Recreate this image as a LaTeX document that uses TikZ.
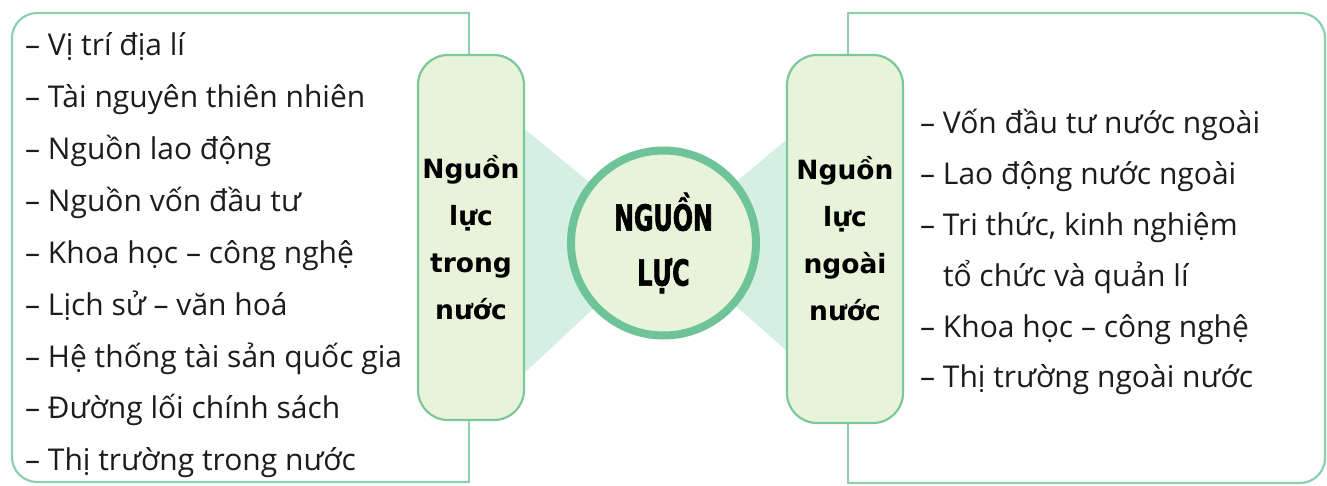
\documentclass[tikz,border=0pt]{standalone}
\usepackage{fontspec}
\setmainfont{Open Sans}
\newfontfamily\pillfont{DejaVu Sans}
\newfontfamily\hubfont{DejaVu Sans Bold}[FakeStretch=0.66, FakeBold=1.6]
\usetikzlibrary{positioning, backgrounds}
\definecolor{framegreen}{RGB}{140, 208, 172}
\definecolor{pillgreen}{RGB}{232, 244, 218}
\definecolor{pillline}{RGB}{125, 200, 155}
\definecolor{hubline}{RGB}{110, 196, 152}
\definecolor{wedgeteal}{RGB}{214, 239, 229}
\definecolor{inktext}{RGB}{28, 28, 28}

\begin{document}
\begin{tikzpicture}[x=1pt, y=-1pt,
    frame/.style={draw=framegreen, line width=2.2pt, line cap=round},
    pill/.style={rectangle, draw=pillline, fill=pillgreen, line width=2.2pt, rounded corners=30pt, align=center, inner sep=0pt, font=\pillfont\bfseries\fontsize{26.5}{47}\selectfont},
    hub/.style={circle, draw=hubline, fill=pillgreen, line width=8pt, minimum size=185pt, align=center, inner sep=0pt, font=\hubfont\fontsize{36}{55}\selectfont},
    wedge/.style={fill=wedgeteal},
    item/.style={anchor=base west, inner sep=0pt, text=inktext, font=\fontsize{30}{35}\selectfont}]

    \useasboundingbox (0,0) rectangle (1327,485);

    % Frames
    \draw[frame, rounded corners=25pt] (469,482) -- (12,482) -- (12,13) -- (469,13);
    \draw[frame] (469,13) -- (469,482);
    \draw[frame, rounded corners=25pt] (848,13) -- (1325,13) -- (1325,483) -- (848,483);
    \draw[frame] (848,13) -- (848,483);

    % Nodes
    \node[pill, minimum width=106pt, minimum height=365pt] (inner) at (471,237.5) {Nguồn\\lực\\trong\\nước};
    \node[pill, minimum width=116pt, minimum height=368pt] (outer) at (845,239) {Nguồn\\lực\\ngoài\\nước};
    \node[hub] (hub) at (663.5,243) {NGUỒN\\LỰC};

    % Wedges
    \begin{scope}[on background layer]
        \fill[wedge] ([yshift=108pt]inner.east) -- (hub.center) -- ([yshift=-135pt]inner.east) -- cycle;
        \fill[wedge] ([yshift=99pt]outer.west) -- (hub.center) -- ([yshift=-111pt]outer.west) -- cycle;
    \end{scope}

    % Lists
    \node[item] (in1) at (25,55) {– Vị trí địa lí};
    \node[item] (in2) at (25,107) {– Tài nguyên thiên nhiên};
    \node[item] (in3) at (25,159) {– Nguồn lao động};
    \node[item] (in4) at (25,211) {– Nguồn vốn đầu tư};
    \node[item] (in5) at (25,263) {– Khoa học – công nghệ};
    \node[item] (in6) at (25,315) {– Lịch sử – văn hoá};
    \node[item] (in7) at (25,367) {– Hệ thống tài sản quốc gia};
    \node[item] (in8) at (25,418) {– Đường lối chính sách};
    \node[item] (in9) at (25,470) {– Thị trường trong nước};

    \node[item] (out1) at (920,133) {– Vốn đầu tư nước ngoài};
    \node[item] (out2) at (920,184) {– Lao động nước ngoài};
    \node[item] (out3) at (920,235) {– Tri thức, kinh nghiệm};
    \node[item] (out4) at (920,286) {\phantom{– }tổ chức và quản lí};
    \node[item] (out5) at (920,337) {– Khoa học – công nghệ};
    \node[item] (out6) at (920,387) {– Thị trường ngoài nước};
\end{tikzpicture}
\end{document}
